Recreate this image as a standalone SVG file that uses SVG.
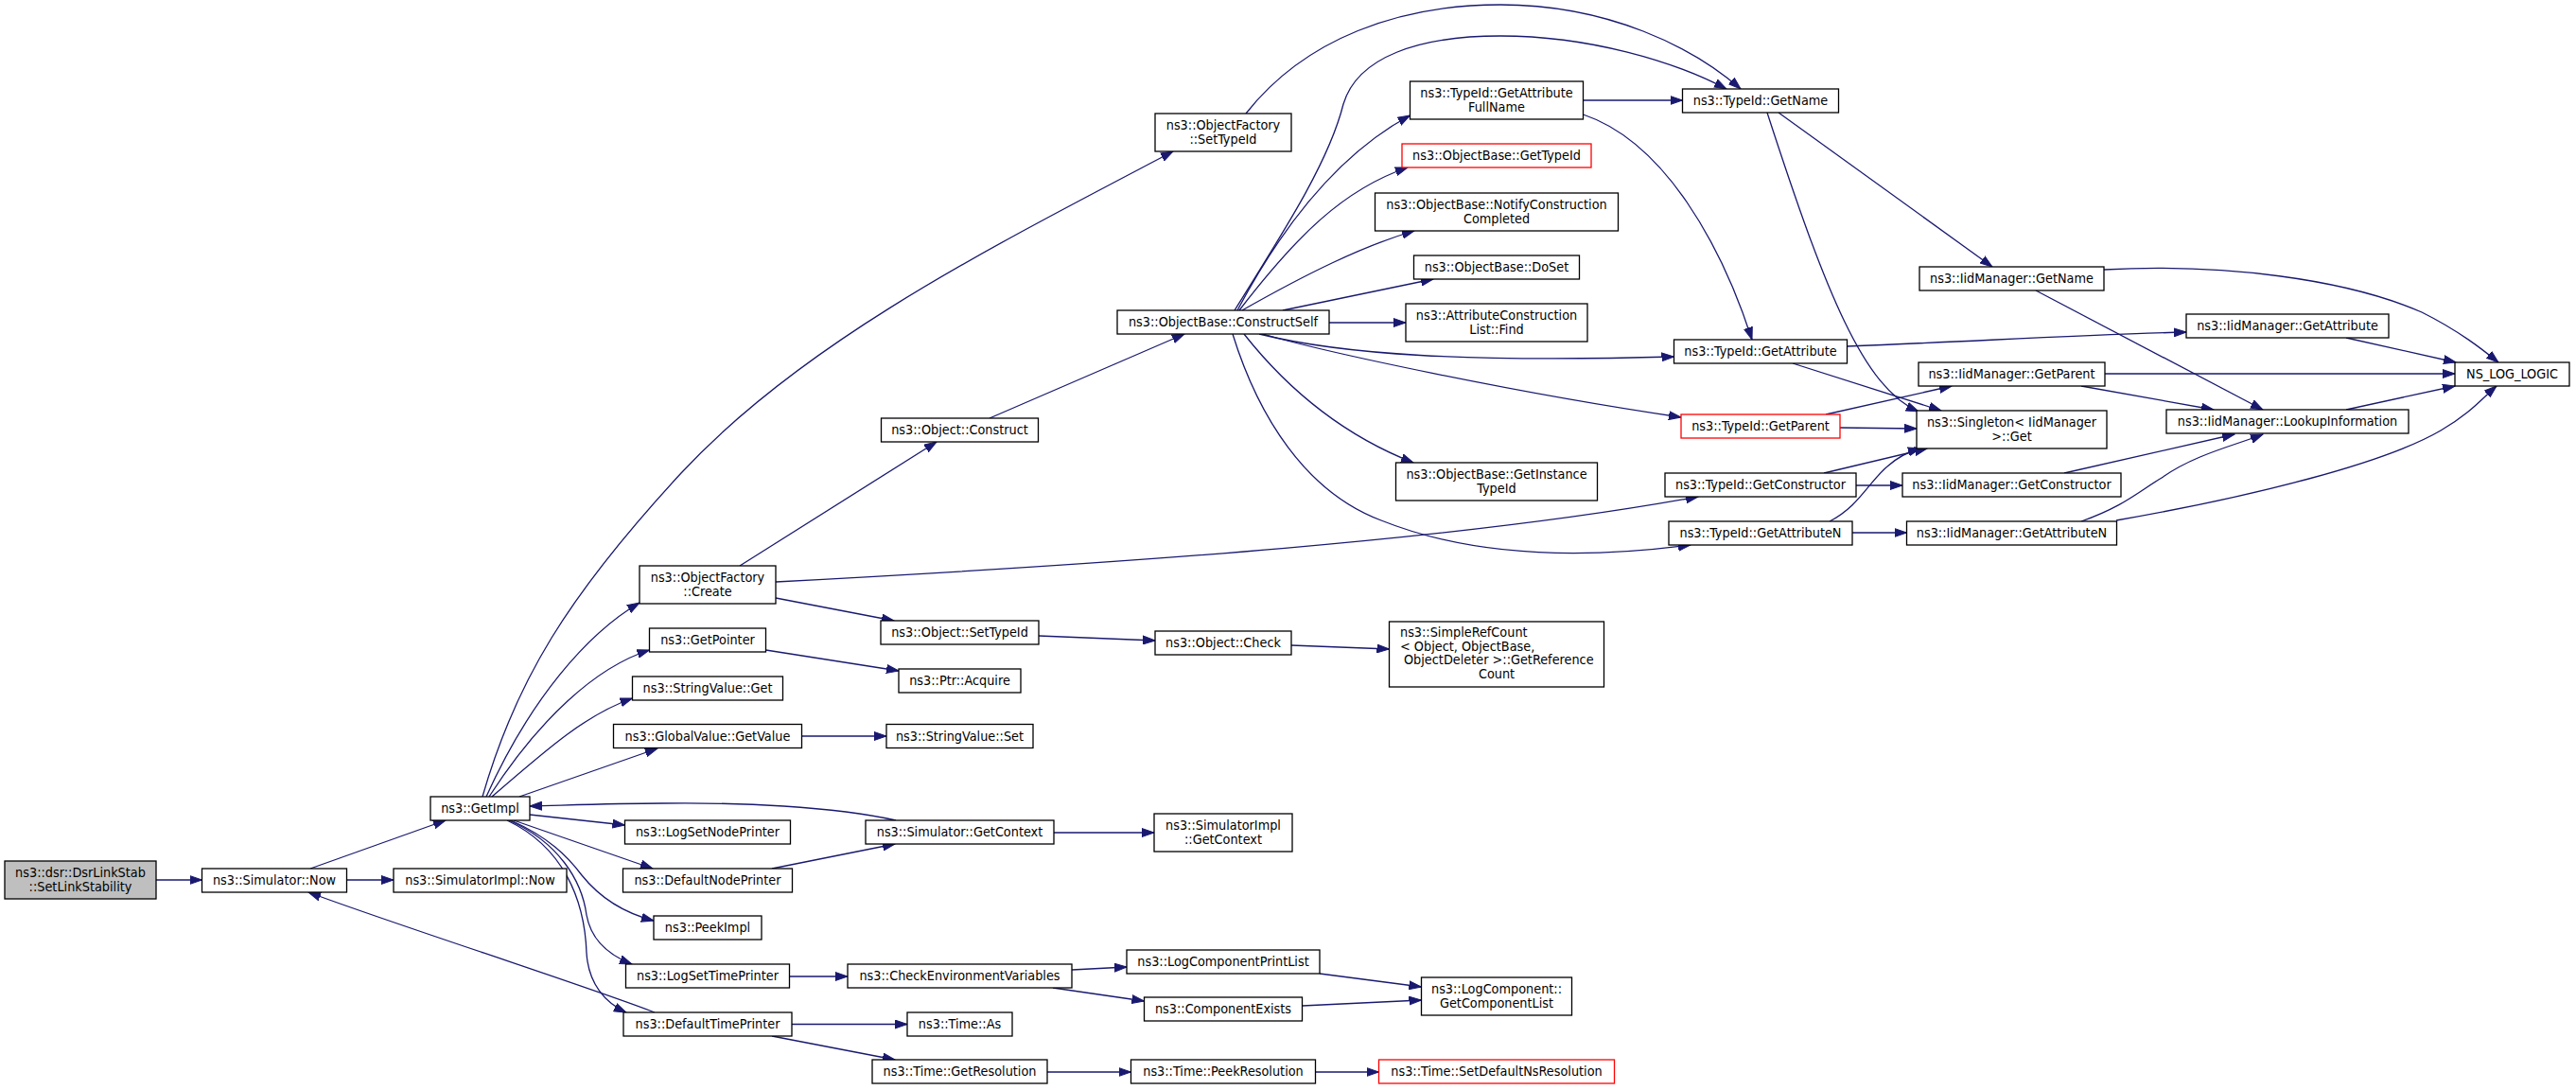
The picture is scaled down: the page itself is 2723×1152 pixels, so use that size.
<svg xmlns="http://www.w3.org/2000/svg" width="2723" height="1152" viewBox="0 0 2723 1152">
<style>
.n rect{fill:#ffffff;stroke:#000000;stroke-width:1.3}
.n.root rect{fill:#bfbfbf}
.n.red rect{stroke:#ff0000}
.n text{font-family:"DejaVu Sans Condensed","DejaVu Sans","Liberation Sans",sans-serif;font-stretch:condensed;font-size:14.3px;text-anchor:middle;fill:#000000}
.n text.l{text-anchor:start}
.e path{fill:none;stroke:#191970;stroke-width:1.3;marker-end:url(#a)}
</style>
<defs>
<marker id="a" markerUnits="userSpaceOnUse" markerWidth="14" markerHeight="10" refX="13" refY="5" orient="auto">
<path d="M0,0.5 L13,5 L0,9.5 z" fill="#191970" stroke="#191970" stroke-width="1"/>
</marker>
</defs>
<rect x="0" y="0" width="2723" height="1152" fill="#ffffff"/>
<g id="connectors" class="e">
<path d="M165,930 L213.5,930"/>
<path d="M328,918 L471,867"/>
<path d="M366.5,930 L416,930"/>
<path d="M510,842 C545,720 600,630 720,500 C850,360 1050,260 1240,160"/>
<path d="M514,842 C560,740 620,670 676,637"/>
<path d="M517,842 C570,760 630,705 686.5,687"/>
<path d="M520,842 C580,790 620,755 668.5,738"/>
<path d="M549,842 L695,791"/>
<path d="M560,861 L660.5,872"/>
<path d="M543,867 L690,918"/>
<path d="M540,867 C580,885 600,905 615,925 C635,950 660,965 691,973"/>
<path d="M538,867 C590,890 615,930 620,967 C625,995 645,1010 668,1019"/>
<path d="M536,867 C595,895 618,950 620,1007 C622,1040 640,1060 662,1070"/>
<path d="M947,867 C880,852 780,848 700,849 C650,849 600,851 560,852"/>
<path d="M692,1070 C620,1042 420,978 326,943"/>
<path d="M1317,120 C1380,40 1480,5 1586,5 C1700,5 1790,50 1840,94"/>
<path d="M782,598 L990,467"/>
<path d="M820,615 C1200,595 1550,570 1795,525"/>
<path d="M820,632 L945,656"/>
<path d="M1046,442 L1252,353"/>
<path d="M1305,328 C1360,240 1405,170 1420,110 C1435,60 1500,38 1586,38 C1680,38 1770,65 1825,94"/>
<path d="M1308,328 C1360,230 1420,160 1490.5,122"/>
<path d="M1310,328 C1370,250 1420,200 1488,177"/>
<path d="M1313,328 C1380,290 1440,260 1495,244"/>
<path d="M1356,328 L1515,295"/>
<path d="M1405,341 L1486,341"/>
<path d="M1331,353 C1420,375 1550,383 1769.5,377"/>
<path d="M1335,353 C1400,372 1600,415 1777,441"/>
<path d="M1315,353 C1360,410 1420,460 1494,489"/>
<path d="M1303,353 C1330,440 1380,520 1460,550 C1560,590 1680,590 1787,576"/>
<path d="M1673.5,106 L1778.5,106"/>
<path d="M1673.5,121 C1760,150 1820,260 1852,359"/>
<path d="M1880,119 L2106,282"/>
<path d="M1868,119 C1930,310 1970,410 2028,435"/>
<path d="M1952.5,366 C2100,360 2200,354 2311,351"/>
<path d="M1895,384 L2052,434"/>
<path d="M1930,438 L2063,408"/>
<path d="M1945,452 L2026,453"/>
<path d="M1928,500 L2037,474"/>
<path d="M1962,513 L2011,513"/>
<path d="M1934,551 C1965,535 1975,510 1995,493 C2005,484 2015,478 2030,474"/>
<path d="M1958,563 L2015.5,563"/>
<path d="M2224,285 C2350,278 2480,295 2560,330 C2600,350 2625,370 2641,383"/>
<path d="M2152,307 L2392,433"/>
<path d="M2480,357 L2596,383"/>
<path d="M2225,395 L2595,395"/>
<path d="M2200,408 L2340,433"/>
<path d="M2480,433 L2595,408"/>
<path d="M2182,500 L2362,459"/>
<path d="M2200,551 C2245,535 2260,520 2285,505 C2320,480 2365,470 2392,459"/>
<path d="M2237,550 C2380,525 2520,490 2580,455 C2610,438 2625,420 2639,408"/>
<path d="M1098,672 L1221,677"/>
<path d="M1365,682 L1468.5,686"/>
<path d="M809.5,687 L950,709"/>
<path d="M847.5,778 L937,778"/>
<path d="M1114,880 L1220,880"/>
<path d="M816,918 L946,892"/>
<path d="M834.5,1032 L896,1032"/>
<path d="M1133,1025 L1191,1022"/>
<path d="M1113,1044 L1209.5,1058"/>
<path d="M1395,1029 L1502.5,1043"/>
<path d="M1376.5,1063 L1502.5,1057"/>
<path d="M837,1082.5 L959,1082.5"/>
<path d="M816,1095 L946,1120"/>
<path d="M1107,1133 L1195.5,1133"/>
<path d="M1390.5,1133 L1457.5,1133"/>
</g>
<g id="n_setlinkstability" class="n root"><rect x="5" y="910" width="160" height="40"/><text x="85" y="926.5">ns3::dsr::DsrLinkStab</text><text x="85" y="941.5">::SetLinkStability</text></g>
<g id="n_simulator_now" class="n"><rect x="213.5" y="918" width="153" height="25"/><text x="290" y="935">ns3::Simulator::Now</text></g>
<g id="n_getimpl" class="n"><rect x="455" y="842" width="105" height="25"/><text x="507.5" y="859">ns3::GetImpl</text></g>
<g id="n_simulatorimpl_now" class="n"><rect x="416" y="918" width="183" height="25"/><text x="507.5" y="935">ns3::SimulatorImpl::Now</text></g>
<g id="n_objectfactory_create" class="n"><rect x="676" y="598" width="144" height="40"/><text x="748" y="614.5">ns3::ObjectFactory</text><text x="748" y="629.5">::Create</text></g>
<g id="n_getpointer" class="n"><rect x="686.5" y="664" width="123" height="25"/><text x="748" y="681">ns3::GetPointer</text></g>
<g id="n_stringvalue_get" class="n"><rect x="668.5" y="715" width="159" height="25"/><text x="748" y="732">ns3::StringValue::Get</text></g>
<g id="n_globalvalue_getvalue" class="n"><rect x="648.5" y="765.5" width="199" height="25"/><text x="748" y="782.5">ns3::GlobalValue::GetValue</text></g>
<g id="n_logsetnodeprinter" class="n"><rect x="660.5" y="867" width="175" height="25"/><text x="748" y="884">ns3::LogSetNodePrinter</text></g>
<g id="n_defaultnodeprinter" class="n"><rect x="658.5" y="918" width="179" height="25"/><text x="748" y="935">ns3::DefaultNodePrinter</text></g>
<g id="n_peekimpl" class="n"><rect x="691" y="968" width="114" height="25"/><text x="748" y="985">ns3::PeekImpl</text></g>
<g id="n_logsettimeprinter" class="n"><rect x="661.5" y="1019" width="173" height="25"/><text x="748" y="1036">ns3::LogSetTimePrinter</text></g>
<g id="n_defaulttimeprinter" class="n"><rect x="659" y="1070" width="178" height="25"/><text x="748" y="1087">ns3::DefaultTimePrinter</text></g>
<g id="n_object_construct" class="n"><rect x="931.5" y="442" width="166" height="25"/><text x="1014.5" y="459">ns3::Object::Construct</text></g>
<g id="n_object_settypeid" class="n"><rect x="931" y="656" width="167" height="25"/><text x="1014.5" y="673">ns3::Object::SetTypeId</text></g>
<g id="n_ptr_acquire" class="n"><rect x="950" y="707" width="129" height="25"/><text x="1014.5" y="724">ns3::Ptr::Acquire</text></g>
<g id="n_stringvalue_set" class="n"><rect x="937" y="765.5" width="155" height="25"/><text x="1014.5" y="782.5">ns3::StringValue::Set</text></g>
<g id="n_simulator_getcontext" class="n"><rect x="915" y="867" width="199" height="25"/><text x="1014.5" y="884">ns3::Simulator::GetContext</text></g>
<g id="n_checkenvironmentvariables" class="n"><rect x="896" y="1019" width="237" height="25"/><text x="1014.5" y="1036">ns3::CheckEnvironmentVariables</text></g>
<g id="n_time_as" class="n"><rect x="959" y="1070" width="111" height="25"/><text x="1014.5" y="1087">ns3::Time::As</text></g>
<g id="n_time_getresolution" class="n"><rect x="922" y="1120" width="185" height="25"/><text x="1014.5" y="1137">ns3::Time::GetResolution</text></g>
<g id="n_objectfactory_settypeid" class="n"><rect x="1221" y="120" width="144" height="40"/><text x="1293" y="136.5">ns3::ObjectFactory</text><text x="1293" y="151.5">::SetTypeId</text></g>
<g id="n_objectbase_constructself" class="n"><rect x="1181" y="328" width="224" height="25"/><text x="1293" y="345">ns3::ObjectBase::ConstructSelf</text></g>
<g id="n_object_check" class="n"><rect x="1221" y="667" width="144" height="25"/><text x="1293" y="684">ns3::Object::Check</text></g>
<g id="n_simulatorimpl_getcontext" class="n"><rect x="1220" y="860" width="146" height="40"/><text x="1293" y="876.5">ns3::SimulatorImpl</text><text x="1293" y="891.5">::GetContext</text></g>
<g id="n_logcomponentprintlist" class="n"><rect x="1191" y="1004" width="204" height="25"/><text x="1293" y="1021">ns3::LogComponentPrintList</text></g>
<g id="n_componentexists" class="n"><rect x="1209.5" y="1054" width="167" height="25"/><text x="1293" y="1071">ns3::ComponentExists</text></g>
<g id="n_time_peekresolution" class="n"><rect x="1195.5" y="1120" width="195" height="25"/><text x="1293" y="1137">ns3::Time::PeekResolution</text></g>
<g id="n_typeid_getattributefullname" class="n"><rect x="1490.5" y="86" width="183" height="40"/><text x="1582" y="102.5">ns3::TypeId::GetAttribute</text><text x="1582" y="117.5">FullName</text></g>
<g id="n_objectbase_gettypeid" class="n red"><rect x="1482" y="152" width="200" height="25"/><text x="1582" y="169">ns3::ObjectBase::GetTypeId</text></g>
<g id="n_objectbase_notifyconstructioncompleted" class="n"><rect x="1453.5" y="204" width="257" height="40"/><text x="1582" y="220.5">ns3::ObjectBase::NotifyConstruction</text><text x="1582" y="235.5">Completed</text></g>
<g id="n_objectbase_doset" class="n"><rect x="1494.5" y="270" width="175" height="25"/><text x="1582" y="287">ns3::ObjectBase::DoSet</text></g>
<g id="n_attributeconstructionlist_find" class="n"><rect x="1486" y="321" width="192" height="40"/><text x="1582" y="337.5">ns3::AttributeConstruction</text><text x="1582" y="352.5">List::Find</text></g>
<g id="n_objectbase_getinstancetypeid" class="n"><rect x="1475.5" y="489" width="213" height="40"/><text x="1582" y="505.5">ns3::ObjectBase::GetInstance</text><text x="1582" y="520.5">TypeId</text></g>
<g id="n_simplerefcount_getreferencecount" class="n"><rect x="1468.5" y="657" width="227" height="69"/><text class="l" x="1480" y="673">ns3::SimpleRefCount</text><text class="l" x="1480" y="687.5">&lt; Object, ObjectBase,</text><text class="l" x="1484" y="702"> ObjectDeleter &gt;::GetReference</text><text x="1582" y="716.5">Count</text></g>
<g id="n_logcomponent_getcomponentlist" class="n"><rect x="1502.5" y="1033" width="159" height="40"/><text x="1582" y="1049.5">ns3::LogComponent::</text><text x="1582" y="1064.5">GetComponentList</text></g>
<g id="n_time_setdefaultnsresolution" class="n red"><rect x="1457.5" y="1120" width="249" height="25"/><text x="1582" y="1137">ns3::Time::SetDefaultNsResolution</text></g>
<g id="n_typeid_getname" class="n"><rect x="1778.5" y="94" width="165" height="25"/><text x="1861" y="111">ns3::TypeId::GetName</text></g>
<g id="n_typeid_getattribute" class="n"><rect x="1769.5" y="359" width="183" height="25"/><text x="1861" y="376">ns3::TypeId::GetAttribute</text></g>
<g id="n_typeid_getparent" class="n red"><rect x="1777" y="438" width="168" height="25"/><text x="1861" y="455">ns3::TypeId::GetParent</text></g>
<g id="n_typeid_getconstructor" class="n"><rect x="1760" y="500" width="202" height="25"/><text x="1861" y="517">ns3::TypeId::GetConstructor</text></g>
<g id="n_typeid_getattributen" class="n"><rect x="1764" y="551" width="194" height="25"/><text x="1861" y="568">ns3::TypeId::GetAttributeN</text></g>
<g id="n_iidmanager_getname" class="n"><rect x="2029" y="282" width="195" height="25"/><text x="2126.5" y="299">ns3::IidManager::GetName</text></g>
<g id="n_iidmanager_getparent" class="n"><rect x="2028" y="383" width="197" height="25"/><text x="2126.5" y="400">ns3::IidManager::GetParent</text></g>
<g id="n_singleton_get" class="n"><rect x="2026" y="434" width="201" height="40"/><text x="2126.5" y="450.5">ns3::Singleton&lt; IidManager</text><text x="2126.5" y="465.5">&gt;::Get</text></g>
<g id="n_iidmanager_getconstructor" class="n"><rect x="2011" y="500" width="231" height="25"/><text x="2126.5" y="517">ns3::IidManager::GetConstructor</text></g>
<g id="n_iidmanager_getattributen" class="n"><rect x="2015.5" y="551" width="222" height="25"/><text x="2126.5" y="568">ns3::IidManager::GetAttributeN</text></g>
<g id="n_iidmanager_getattribute" class="n"><rect x="2311" y="332" width="214" height="25"/><text x="2418" y="349">ns3::IidManager::GetAttribute</text></g>
<g id="n_iidmanager_lookupinformation" class="n"><rect x="2290" y="433" width="256" height="25"/><text x="2418" y="450">ns3::IidManager::LookupInformation</text></g>
<g id="n_ns_log_logic" class="n"><rect x="2595" y="383" width="121" height="25"/><text x="2655.5" y="400">NS_LOG_LOGIC</text></g>
</svg>
